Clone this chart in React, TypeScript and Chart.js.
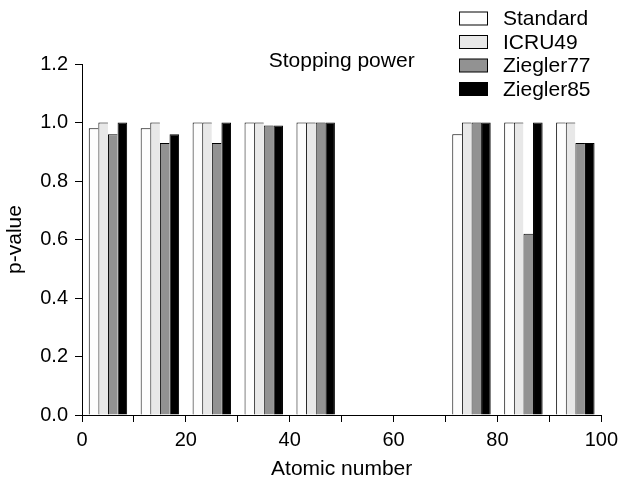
import React, { useEffect, useRef } from 'react';
import { Chart, registerables } from 'chart.js';

Chart.register(...registerables);

// Data
const atomicNumbers = [5, 15, 25, 35, 45, 75, 85, 95];
const standard = [0.98, 0.98, 1.0, 1.0, 1.0, 0.96, 1.0, 1.0];
const icru49 = [1.0, 1.0, 1.0, 1.0, 1.0, 1.0, 1.0, 1.0];
const ziegler77 = [0.96, 0.93, 0.93, 0.99, 1.0, 1.0, 0.62, 0.93];
const ziegler85 = [1.0, 0.96, 1.0, 0.99, 1.0, 1.0, 1.0, 0.93];

const seriesNames = ['Standard', 'ICRU49', 'Ziegler77', 'Ziegler85'];
const seriesColors = ['#fdfdfd', '#e8e8e8', '#929292', '#000000'];

const chartTitle = 'Stopping power';
const xTitle = 'Atomic number';
const yTitle = 'p-value';
const xMin = 0;
const xMax = 100;
const xStep = 10;
const xLabelEvery = 20;
const yMin = 0;
const yMax = 1.2;
const yStep = 0.2;

const FONT = "'Liberation Sans', Arial, Helvetica, sans-serif";

export default function App() {
  const ref = useRef<HTMLCanvasElement>(null);

  useEffect(() => {
    if (!ref.current) return;
    const series = [standard, icru49, ziegler77, ziegler85];

    const overlay = {
      id: 'overlay',
      afterDraw(chart: any) {
        const ctx = chart.ctx as CanvasRenderingContext2D;
        const a = chart.chartArea;
        ctx.save();
        ctx.fillStyle = '#000';
        ctx.font = `21px ${FONT}`;
        ctx.textAlign = 'center';
        ctx.textBaseline = 'alphabetic';
        ctx.fillText(chartTitle, (a.left + a.right) / 2, 67);
        chart.data.datasets.forEach((ds: any, i: number) => {
          const cy = 18.5 + i * 23.5;
          ctx.fillStyle = ds.backgroundColor;
          ctx.fillRect(459.5, cy - 6.5, 28, 13);
          ctx.strokeStyle = '#000';
          ctx.lineWidth = 1;
          ctx.strokeRect(459.5, cy - 6.5, 28, 13);
          ctx.fillStyle = '#000';
          ctx.textAlign = 'left';
          ctx.textBaseline = 'middle';
          ctx.fillText(ds.label, 503, cy + 1);
        });
        ctx.restore();
      },
    };

    const chart = new Chart(ref.current, {
      type: 'bar',
      data: {
        datasets: series.map((vals, i) => ({
          label: seriesNames[i],
          data: atomicNumbers.map((x, j) => ({ x, y: vals[j] })),
          backgroundColor: seriesColors[i],
          borderColor: '#000',
          borderWidth: { top: 1, left: 1, right: i === series.length - 1 ? 1 : 0, bottom: 0 },
          borderSkipped: false,
          categoryPercentage: 0.74,
          barPercentage: 1.0,
        })),
      },
      options: {
        animation: false,
        responsive: true,
        maintainAspectRatio: false,
        layout: { padding: { top: 64, right: 20, left: 0, bottom: 0 } },
        plugins: {
          legend: { display: false },
          tooltip: { enabled: false },
          title: { display: false },
        },
        scales: {
          x: {
            type: 'linear',
            min: xMin,
            max: xMax,
            offset: false,
            afterFit(scale: any) {
              scale.height = 69;
            },
            ticks: {
              stepSize: xStep,
              autoSkip: false,
              maxRotation: 0,
              color: '#000',
              padding: 6,
              font: { family: FONT, size: 20 },
              callback: (v: any) => (Number(v) % xLabelEvery === 0 ? String(v) : ''),
            },
            grid: {
              offset: false,
              drawOnChartArea: false,
              drawTicks: true,
              tickLength: 7,
              color: '#000',
              tickColor: '#000',
            },
            border: { display: true, color: '#000', width: 1 },
            title: {
              display: true,
              text: xTitle,
              color: '#000',
              font: { family: FONT, size: 21 },
              padding: { top: 0, bottom: 2 },
            },
          },
          y: {
            min: yMin,
            max: yMax,
            afterFit(scale: any) {
              scale.width = 82;
            },
            ticks: {
              stepSize: yStep,
              color: '#000',
              padding: 7,
              font: { family: FONT, size: 20 },
              callback: (v: any) => Number(v).toFixed(1),
            },
            grid: {
              drawOnChartArea: false,
              drawTicks: true,
              tickLength: 7,
              color: '#000',
              tickColor: '#000',
            },
            border: { display: true, color: '#000', width: 1 },
            title: {
              display: true,
              text: yTitle,
              color: '#000',
              font: { family: FONT, size: 21 },
              padding: { top: 3, bottom: 0 },
            },
          },
        },
      },
      plugins: [overlay],
    } as any);

    return () => chart.destroy();
  }, []);

  return (
    <div style={{ position: 'fixed', left: 0, top: 0, width: 624, height: 484 }}>
      <canvas ref={ref} />
    </div>
  );
}
